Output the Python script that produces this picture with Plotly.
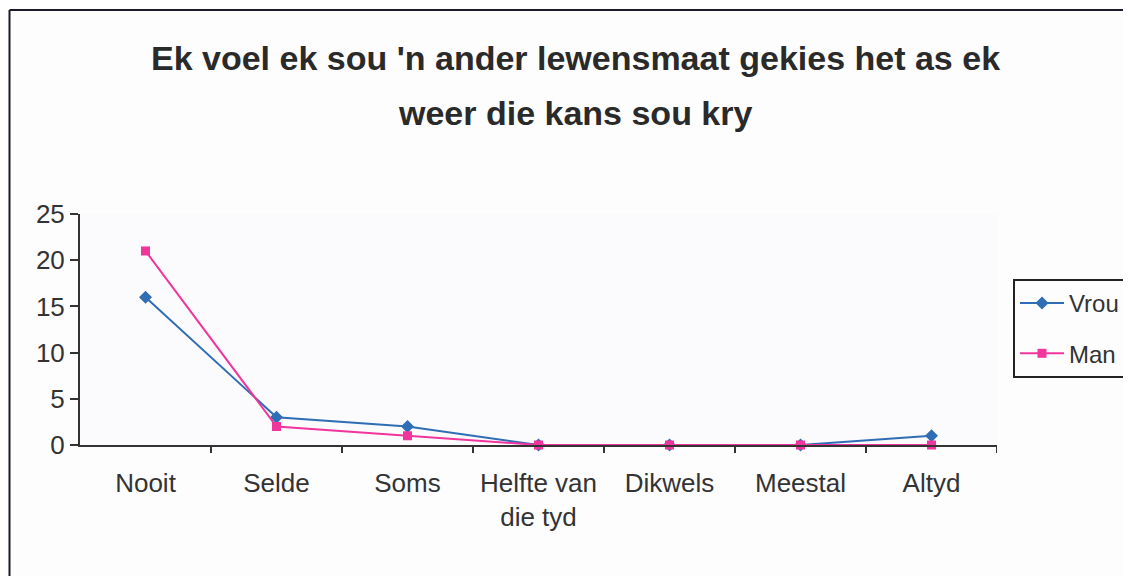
import plotly.graph_objects as go

categories = ["Nooit", "Selde", "Soms", "Helfte van<br>die tyd", "Dikwels", "Meestal", "Altyd"]
vrou = [16, 3, 2, 0, 0, 0, 1]
man = [21, 2, 1, 0, 0, 0, 0]
y_ticks = [0, 5, 10, 15, 20, 25]
title_lines = ["Ek voel ek sou 'n ander lewensmaat gekies het as ek", "weer die kans sou kry"]

OFF = 8  # page body margin
W, H = 1131, 568
# plot area in screen pixels
SX0, SX1, SY0, SY1 = 80, 997, 214, 445
L, T = SX0 - OFF, SY0 - OFF
R, B = W - (SX1 - OFF), H - (SY1 - OFF)
pw, ph = SX1 - SX0, SY1 - SY0

FONT = "Liberation Sans, Arial, sans-serif"
TXT = "#333333"

def px(x):
    return (x - SX0) / pw

def py(y):
    return (SY1 - y) / ph

fig = go.Figure()
fig.add_trace(go.Scatter(x=list(range(len(categories))), y=vrou, name="Vrou", mode="lines+markers",
                         line=dict(color="#2f6db5", width=2),
                         marker=dict(symbol="diamond", size=10, color="#2f6db5"),
                         cliponaxis=False, legendgroup="a"))
fig.add_trace(go.Scatter(x=list(range(len(categories))), y=man, name="Man", mode="lines+markers",
                         line=dict(color="#f0359c", width=2),
                         marker=dict(symbol="square", size=9, color="#f0359c"),
                         cliponaxis=False, legendgroup="b"))

fig.update_layout(
    width=W, height=H,
    margin=dict(l=L, r=R, t=T, b=B, autoexpand=False),
    paper_bgcolor="#fdfdfe", plot_bgcolor="#fbfbfe",
    font=dict(family=FONT, size=26, color=TXT),
    showlegend=True,
    legend=dict(x=px(1013), xanchor="left", y=py(279), yanchor="top",
                bordercolor="#222222", borderwidth=2, bgcolor="#fdfdfe",
                itemwidth=44,
                font=dict(family=FONT, size=24, color=TXT), tracegroupgap=16),
    xaxis=dict(range=[-0.5, len(categories) - 0.5], tickmode="array",
               tickvals=list(range(len(categories))), ticktext=categories,
               showgrid=False, zeroline=False, showline=True, linecolor="#333333", linewidth=2,
               ticks="", ticklabelstandoff=14, tickfont=dict(family=FONT, size=26, color=TXT)),
    yaxis=dict(range=[0, 25], tickvals=y_ticks, showgrid=False, zeroline=False,
               showline=True, linecolor="#333333", linewidth=2, ticks="outside",
               ticklen=8, tickwidth=2, tickcolor="#333333",
               tickfont=dict(family=FONT, size=26, color=TXT)),
)

# title as two centered lines
for line, yc in zip(title_lines, [58, 113]):
    fig.add_annotation(text="<b>" + line + "</b>", xref="paper", yref="paper",
                       x=px(575), y=py(yc), xanchor="center", yanchor="middle",
                       showarrow=False, font=dict(family=FONT, size=34, color="#2a2a2a"))

# category separator tick marks below x-axis
for k in range(len(categories)):
    fig.add_shape(type="line", xref="x", yref="paper", x0=k + 0.5, x1=k + 0.5,
                  y0=0, y1=-8 / ph, line=dict(color="#333333", width=2))

# outer chart border (left and top edges visible)
fig.add_shape(type="line", xref="paper", yref="paper",
              x0=px(9.5), x1=px(9.5), y0=py(580), y1=py(10),
              line=dict(color="#1a1a2a", width=2), layer="below")
fig.add_shape(type="line", xref="paper", yref="paper",
              x0=px(9.5), x1=px(1150), y0=py(10), y1=py(10),
              line=dict(color="#1a1a2a", width=2), layer="below")

fig.write_html("out.html")
